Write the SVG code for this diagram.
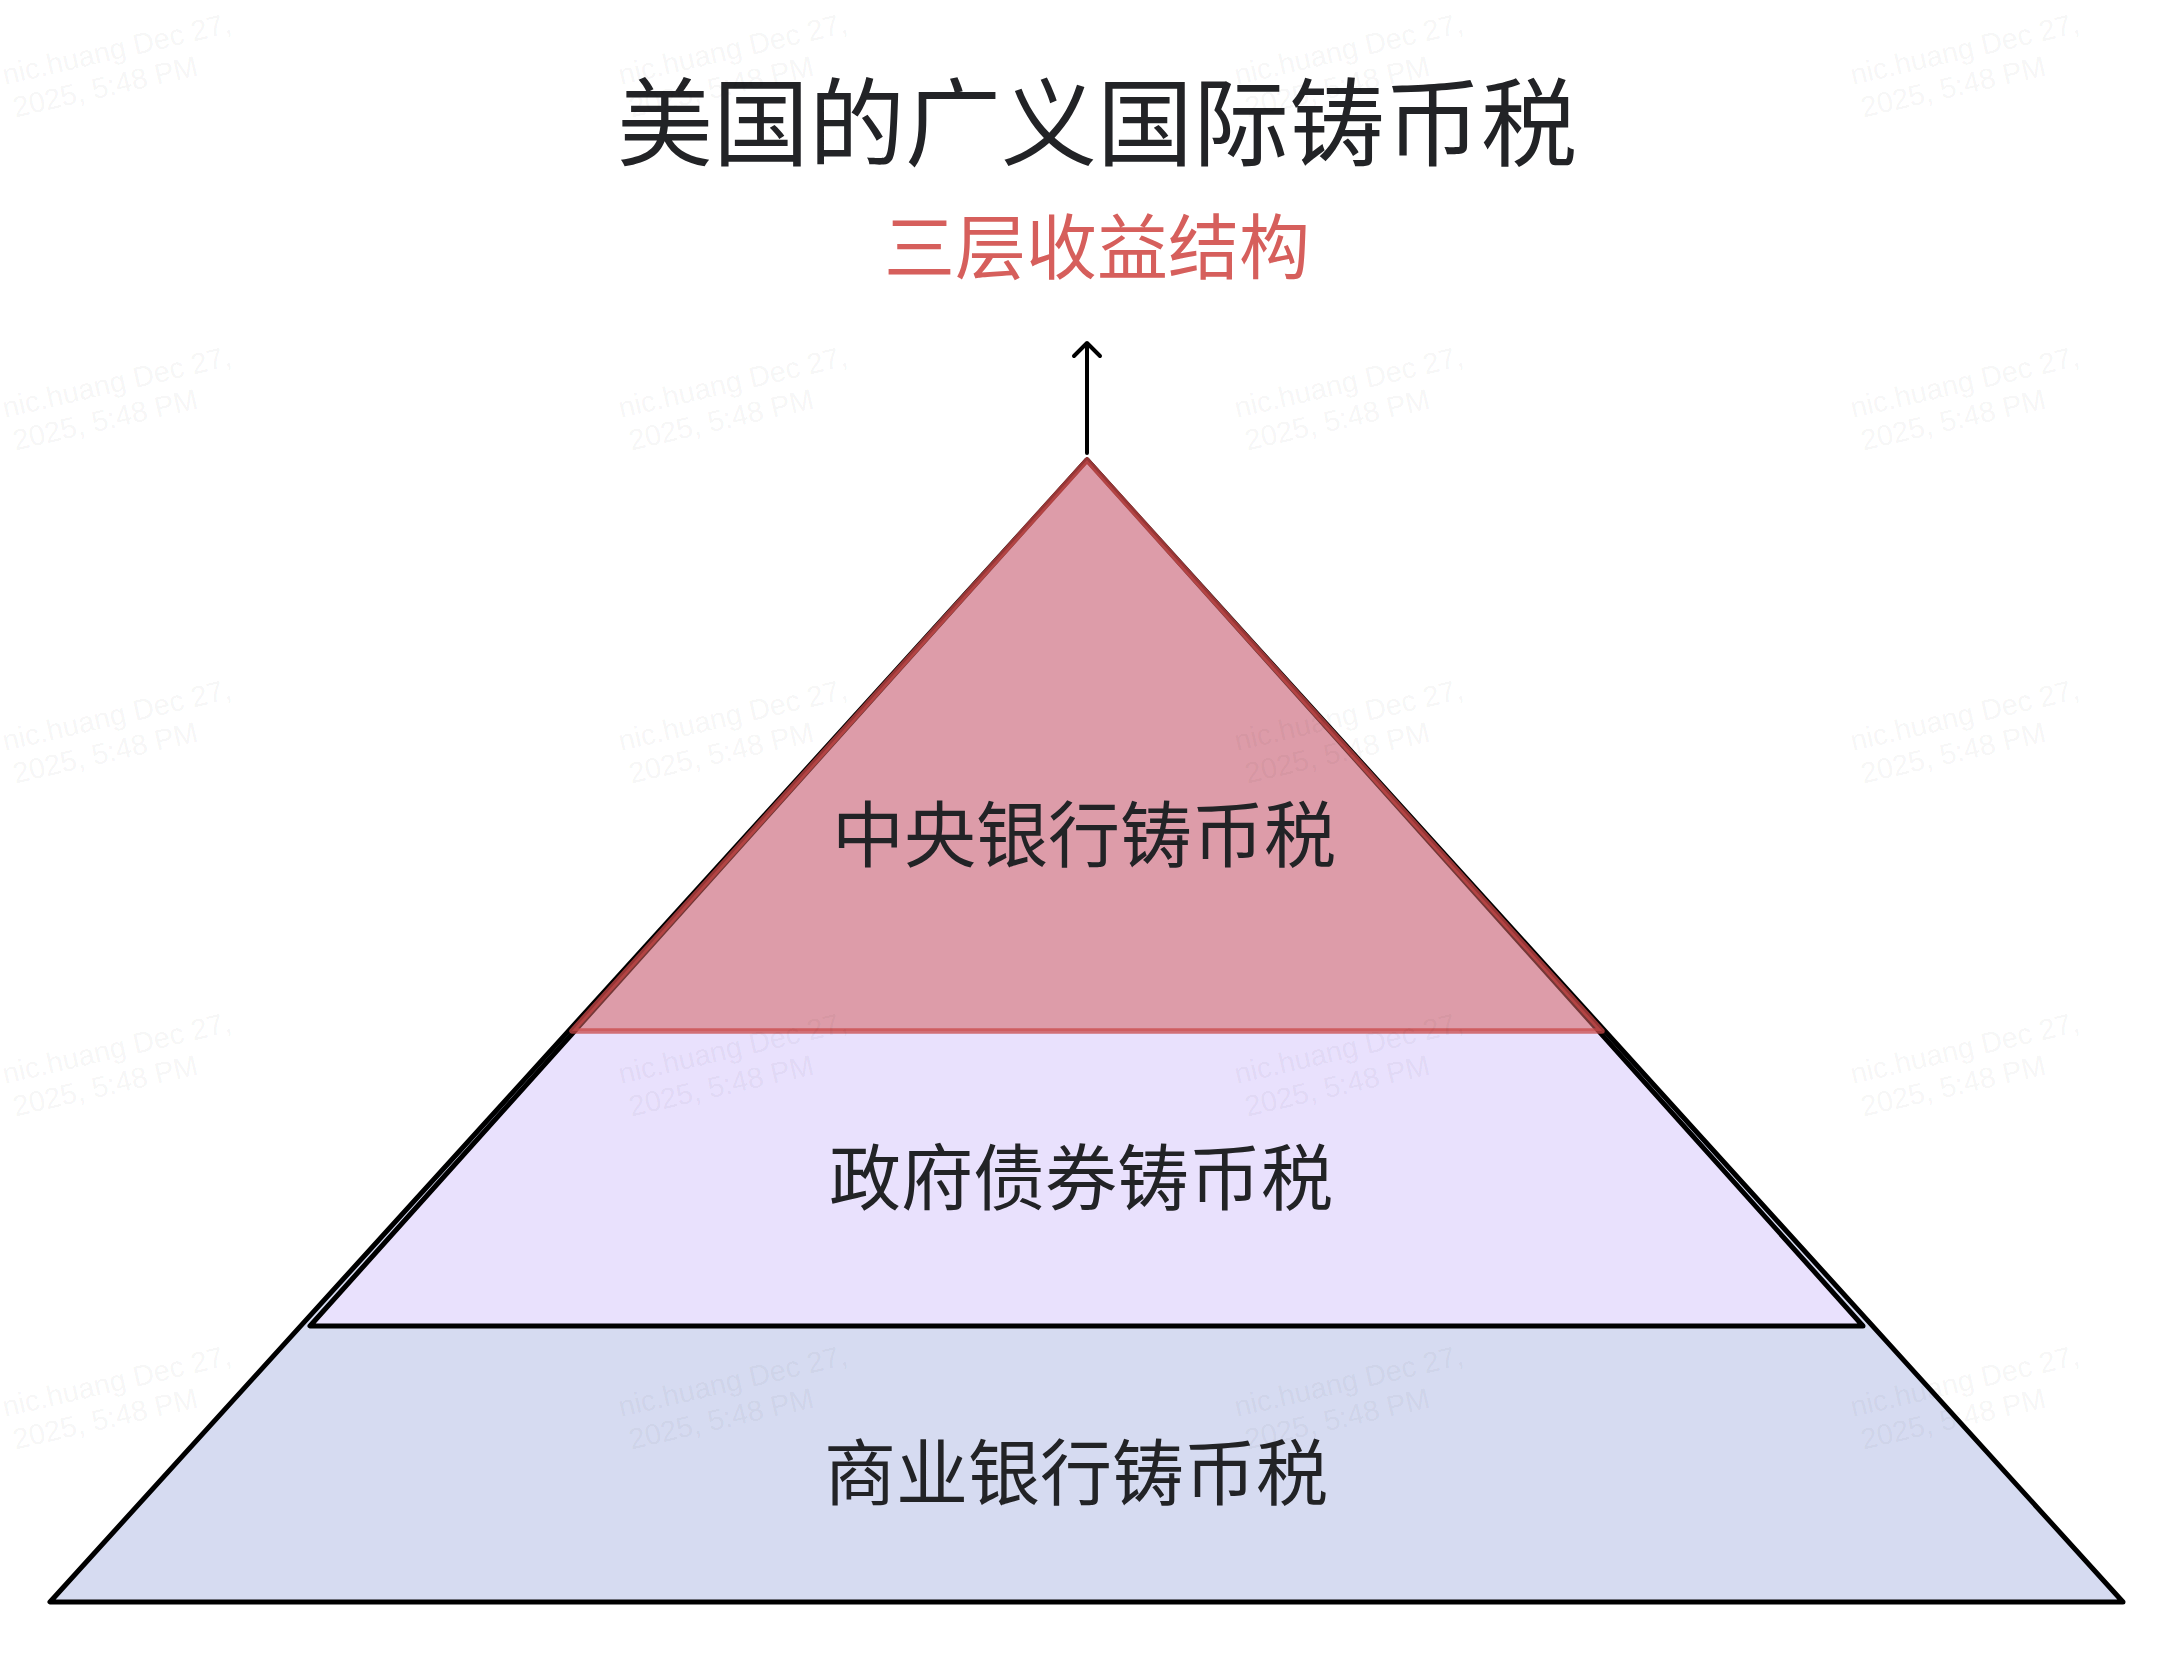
<svg xmlns="http://www.w3.org/2000/svg" xmlns:xlink="http://www.w3.org/1999/xlink" width="2174" height="1656" viewBox="0 0 2174 1656">
<style>
.t{font-family:"Noto Sans CJK SC","Noto Sans",sans-serif;text-anchor:middle;fill:#222326}
.lbl{font-size:72px}
.wm{font-family:"Liberation Sans",Arial,sans-serif;font-size:29px;fill:#000;fill-opacity:0.05}
.edge{stroke:#000;stroke-width:5;stroke-linejoin:round;stroke-linecap:round}
</style>
<defs>
<g id="wmk"><text class="wm" x="0" y="0">nic.huang Dec 27,</text><text class="wm" x="3" y="34">2025, 5:48 PM</text></g>
</defs>
<rect width="2174" height="1656" fill="#fff"/>
<g id="title"><text class="t" x="1097" y="158" font-size="96">美国的广义国际铸币税</text></g>
<g id="subtitle"><text class="t" x="1097" y="273" font-size="71" style="fill:#d65f5c">三层收益结构</text></g>
<g id="layer-bottom">
<polygon class="edge" points="1087,460 50,1602 2123,1602" fill="#d6dbf1"/>
</g>
<g id="layer-middle">
<polygon class="edge" points="1087,460 310,1326 1863,1326" fill="#e9e1fd"/>
</g>
<g id="layer-top">
<polygon points="1087,460 572,1031 1602,1031" fill="rgba(212,100,100,0.55)" stroke="rgba(200,72,72,0.75)" stroke-width="5.5" stroke-linejoin="round"/>
</g>
<g id="labels">
<text class="t lbl" x="1084" y="861">中央银行铸币税</text>
<text class="t lbl" x="1081" y="1204">政府债券铸币税</text>
<text class="t lbl" x="1076" y="1499">商业银行铸币税</text>
</g>
<g id="connectors">
<line x1="1087" y1="453" x2="1087" y2="344" stroke="#000" stroke-width="4" stroke-linecap="round"/>
<polyline points="1074,356 1087,343 1100,356" fill="none" stroke="#000" stroke-width="4" stroke-linecap="round" stroke-linejoin="round"/>
</g>
<g id="watermarks">
<use xlink:href="#wmk" transform="translate(5,85) rotate(-13)"/>
<use xlink:href="#wmk" transform="translate(621,85) rotate(-13)"/>
<use xlink:href="#wmk" transform="translate(1237,85) rotate(-13)"/>
<use xlink:href="#wmk" transform="translate(1853,85) rotate(-13)"/>
<use xlink:href="#wmk" transform="translate(5,418) rotate(-13)"/>
<use xlink:href="#wmk" transform="translate(621,418) rotate(-13)"/>
<use xlink:href="#wmk" transform="translate(1237,418) rotate(-13)"/>
<use xlink:href="#wmk" transform="translate(1853,418) rotate(-13)"/>
<use xlink:href="#wmk" transform="translate(5,751) rotate(-13)"/>
<use xlink:href="#wmk" transform="translate(621,751) rotate(-13)"/>
<use xlink:href="#wmk" transform="translate(1237,751) rotate(-13)"/>
<use xlink:href="#wmk" transform="translate(1853,751) rotate(-13)"/>
<use xlink:href="#wmk" transform="translate(5,1084) rotate(-13)"/>
<use xlink:href="#wmk" transform="translate(621,1084) rotate(-13)"/>
<use xlink:href="#wmk" transform="translate(1237,1084) rotate(-13)"/>
<use xlink:href="#wmk" transform="translate(1853,1084) rotate(-13)"/>
<use xlink:href="#wmk" transform="translate(5,1417) rotate(-13)"/>
<use xlink:href="#wmk" transform="translate(621,1417) rotate(-13)"/>
<use xlink:href="#wmk" transform="translate(1237,1417) rotate(-13)"/>
<use xlink:href="#wmk" transform="translate(1853,1417) rotate(-13)"/>
</g>
</svg>
